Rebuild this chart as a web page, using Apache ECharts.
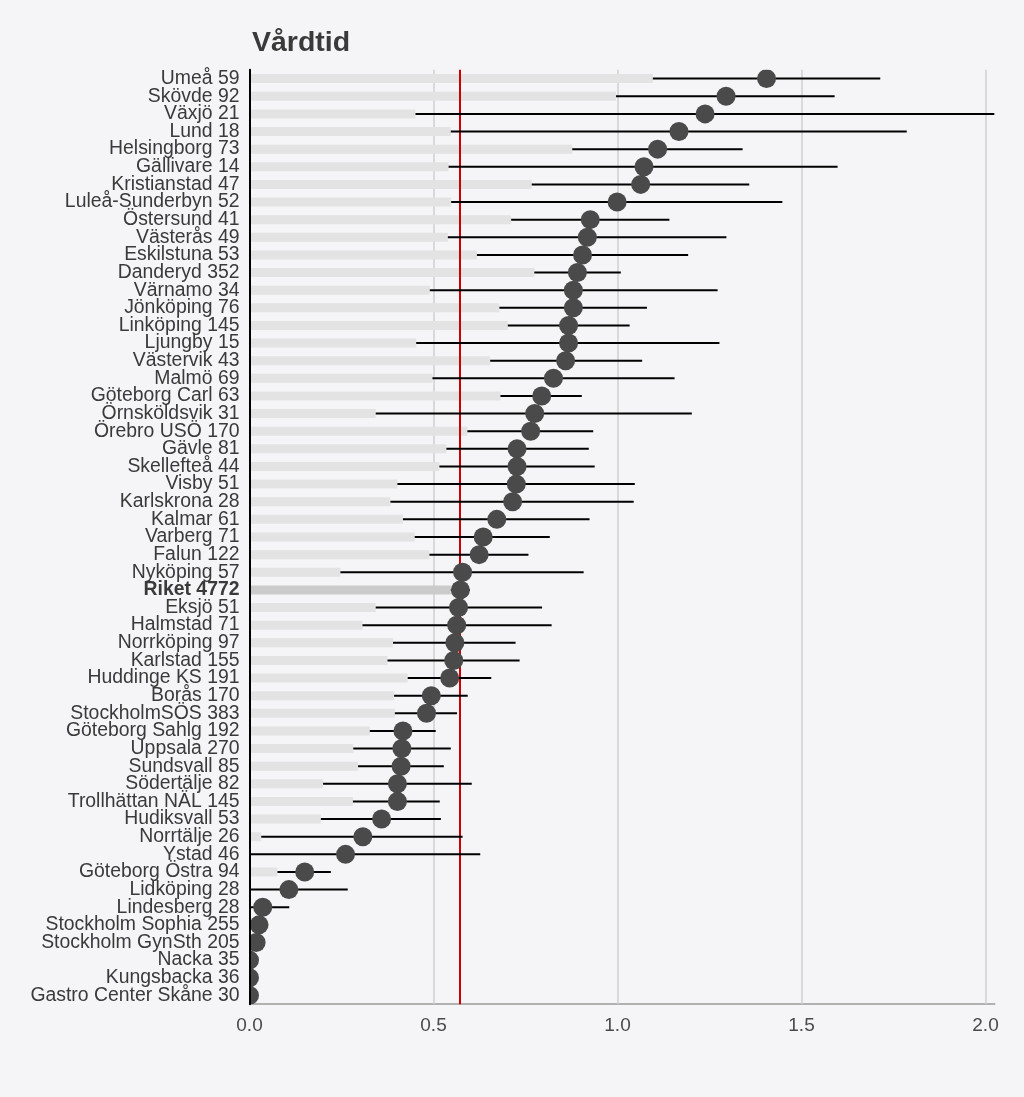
<!DOCTYPE html>
<html>
<head>
<meta charset="utf-8">
<script src="https://cdn.jsdelivr.net/npm/echarts@6/dist/echarts.min.js"></script>
<style>
  html, body { margin: 0; padding: 0; background: #f5f4f7; }
  #chart { width: 1024px; height: 1097px; }
</style>
</head>
<body>
<div id="chart"></div>
<script>
const title = 'Vårdtid';
const categories = [
  'Umeå 59','Skövde 92','Växjö 21','Lund 18','Helsingborg 73','Gällivare 14','Kristianstad 47',
  'Luleå-Sunderbyn 52','Östersund 41','Västerås 49','Eskilstuna 53','Danderyd 352','Värnamo 34',
  'Jönköping 76','Linköping 145','Ljungby 15','Västervik 43','Malmö 69','Göteborg Carl 63',
  'Örnsköldsvik 31','Örebro USÖ 170','Gävle 81','Skellefteå 44','Visby 51','Karlskrona 28',
  'Kalmar 61','Varberg 71','Falun 122','Nyköping 57','Riket 4772','Eksjö 51','Halmstad 71',
  'Norrköping 97','Karlstad 155','Huddinge KS 191','Borås 170','StockholmSÖS 383',
  'Göteborg Sahlg 192','Uppsala 270','Sundsvall 85','Södertälje 82','Trollhättan NÄL 145',
  'Hudiksvall 53','Norrtälje 26','Ystad 46','Göteborg Östra 94','Lidköping 28','Lindesberg 28',
  'Stockholm Sophia 255','Stockholm GynSth 205','Nacka 35','Kungsbacka 36','Gastro Center Skåne 30'
];
const means = [
  1.405,1.295,1.238,1.167,1.109,1.072,1.063,0.999,0.926,0.918,
  0.905,0.891,0.880,0.880,0.867,0.867,0.859,0.826,0.794,0.775,
  0.764,0.727,0.727,0.725,0.715,0.672,0.635,0.624,0.579,0.573,
  0.568,0.563,0.558,0.555,0.544,0.494,0.481,0.417,0.414,0.412,
  0.402,0.402,0.359,0.308,0.261,0.150,0.107,0.036,0.026,0.018,
  0,0,0
];
const lower = [
  1.096,0.996,0.451,0.547,0.877,0.541,0.767,0.548,0.711,0.539,
  0.618,0.774,0.490,0.679,0.702,0.453,0.654,0.497,0.682,0.343,
  0.592,0.535,0.516,0.402,0.383,0.417,0.449,0.489,0.247,0.547,
  0.343,0.307,0.390,0.375,0.430,0.393,0.395,0.327,0.282,0.295,
  0.200,0.281,0.194,0.032,0,0.076,0,0,null,null,
  null,null,null
];
const upper = [
  1.714,1.590,2.024,1.786,1.340,1.598,1.358,1.448,1.141,1.296,
  1.192,1.009,1.272,1.080,1.033,1.277,1.067,1.155,0.903,1.202,
  0.934,0.922,0.938,1.047,1.044,0.924,0.816,0.758,0.908,0.599,
  0.795,0.821,0.723,0.734,0.657,0.593,0.564,0.506,0.547,0.528,
  0.604,0.517,0.520,0.579,0.627,0.221,0.267,0.108,null,null,
  null,null,null
];
const xTicks = [0.5, 1.0, 1.5, 2.0];
const referenceValue = 0.57;
const highlight = 'Riket 4772';

const barData = lower.map((v, i) => categories[i] === highlight
  ? { value: v, itemStyle: { color: '#cbcbcb' } } : v);
const errData = [];
lower.forEach((lo, i) => { if (lo !== null && upper[i] !== null) errData.push([lo, i, upper[i]]); });

const chart = echarts.init(document.getElementById('chart'));
chart.setOption({
  backgroundColor: '#f5f4f7',
  animation: false,
  textStyle: { fontFamily: 'Liberation Sans, Arial, sans-serif' },
  title: {
    text: title, left: 247, top: 24,
    textStyle: { fontSize: 28.5, fontWeight: 'bold', color: '#3a3a3a', fontFamily: 'Liberation Sans, Arial, sans-serif' }
  },
  grid: { left: 249.5, right: 29.3, top: 69.8, bottom: 92.8, containLabel: false },
  xAxis: {
    type: 'value', min: 0, max: 2.025, interval: 0.5,
    axisLine: { show: true, lineStyle: { color: '#9a9a9a', width: 1.5 } },
    axisTick: { show: false },
    splitLine: { show: false },
    axisLabel: {
      fontSize: 19, color: '#4a4a4a', margin: 12, showMaxLabel: false,
      formatter: v => v.toFixed(1)
    }
  },
  yAxis: {
    type: 'category', data: categories, inverse: true, z: 10,
    axisLine: { show: true, lineStyle: { color: '#000', width: 2 } },
    axisTick: { show: false },
    splitLine: { show: false },
    axisLabel: {
      interval: 0, fontSize: 19.4, color: '#3a3a3a', margin: 10,
      formatter: v => v === highlight ? '{b|' + v + '}' : v,
      rich: { b: { fontWeight: 'bold', fontSize: 19.4, color: '#3a3a3a' } }
    }
  },
  series: [
    {
      type: 'bar', data: barData, barWidth: 9, z: 2,
      itemStyle: { color: '#e3e3e3' }, silent: true,
      markLine: {
        silent: true, symbol: 'none', z: 1,
        label: { show: false },
        lineStyle: { color: '#d0d0d0', width: 1.5, type: 'solid' },
        data: xTicks.map(v => ({ xAxis: v }))
      }
    },
    {
      type: 'custom', z: 4, silent: true,
      data: errData,
      encode: { x: 0, y: 1 },
      renderItem: (params, api) => {
        const p1 = api.coord([api.value(0), api.value(1)]);
        const p2 = api.coord([api.value(2), api.value(1)]);
        return { type: 'line', shape: { x1: p1[0], y1: p1[1], x2: p2[0], y2: p2[1] },
                 style: { stroke: '#000', lineWidth: 2 } };
      },
      markLine: {
        silent: true, symbol: 'none', z: 3,
        label: { show: false },
        lineStyle: { color: '#cc0000', width: 2, type: 'solid' },
        data: [{ xAxis: referenceValue }]
      }
    },
    {
      type: 'custom', z: 5, clip: true, silent: true,
      data: means.map((v, i) => [v, i]),
      encode: { x: 0, y: 1 },
      renderItem: (params, api) => {
        const p = api.coord([api.value(0), api.value(1)]);
        return { type: 'circle', shape: { cx: p[0], cy: p[1], r: 9.5 },
                 style: { fill: '#4a4a4a' } };
      }
    }
  ]
});
</script>
</body>
</html>
